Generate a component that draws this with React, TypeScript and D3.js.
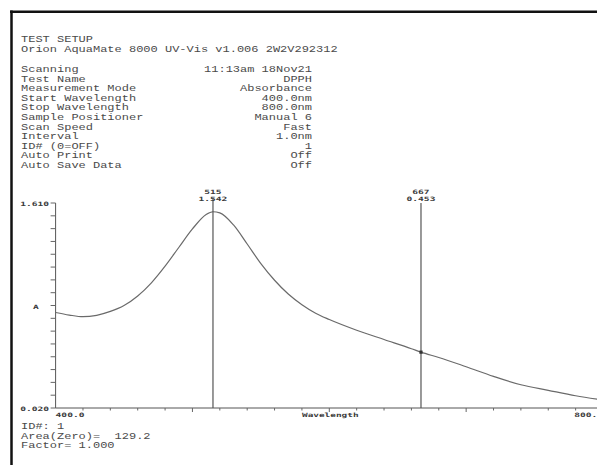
import * as d3 from "d3";
import { useEffect, useRef } from "react";

// spectrum
const wavelengths = [400, 410, 420, 430, 440, 450, 460, 470, 480, 490, 500, 510, 515, 520, 530, 540, 550, 560, 570, 580, 590, 600, 620, 640, 660, 667, 680, 700, 720, 740, 760, 780, 800];
const absorbance = [0.761, 0.741, 0.728, 0.739, 0.769, 0.815, 0.889, 0.991, 1.12, 1.265, 1.409, 1.521, 1.542, 1.533, 1.44, 1.292, 1.14, 1.011, 0.904, 0.821, 0.755, 0.706, 0.623, 0.551, 0.48, 0.453, 0.412, 0.34, 0.265, 0.2, 0.157, 0.115, 0.082];

const markers = [
  { wl: 515, a: 1.542, dot: false },
  { wl: 667, a: 0.453, dot: true },
];

const headerLines = ["TEST SETUP", "Orion AquaMate 8000 UV-Vis v1.006 2W2V292312"];
const setupNames = ["Scanning", "Test Name", "Measurement Mode", "Start Wavelength", "Stop Wavelength", "Sample Positioner", "Scan Speed", "Interval", "ID# (0=OFF)", "Auto Print", "Auto Save Data"];
const setupValues = ["11:13am 18Nov21", "DPPH", "Absorbance", "400.0nm", "800.0nm", "Manual 6", "Fast", "1.0nm", "1", "Off", "Off"];
const footerLines = ["ID#: 1", "Area(Zero)=  129.2", "Factor= 1.000"];

const yMin = 0.02;
const yMax = 1.61;
const yDivisions = 16;
const xStep = 20;

const W = 597;
const H = 465;
const INK = "#3a3a3a";
const MONO = "'Liberation Mono', 'DejaVu Sans Mono', monospace";
const SMALL = "'DejaVu Sans Mono', monospace";

export default function App() {
  const svgRef = useRef<SVGSVGElement>(null);

  useEffect(() => {
    const svg = d3.select(svgRef.current);
    svg.selectAll("*").remove();

    svg.append("rect").attr("width", W).attr("height", H).attr("fill", "#fff");

    // frame (only top and left edges are in the crop)
    svg.append("line").attr("x1", 11.5).attr("x2", 11.5).attr("y1", 10.5).attr("y2", H).attr("stroke", "#111").attr("stroke-width", 2.5);
    svg.append("line").attr("x1", 10).attr("x2", W).attr("y1", 11.8).attr("y2", 11.8).attr("stroke", "#111").attr("stroke-width", 2.5);

    // printed text, a bit flattened like the thermal printout
    const txt = svg.append("g").attr("fill", "#4a4a4a").attr("font-family", MONO).attr("font-size", 12);
    const put = (cls: string, rows: string[], x0: number, y0: number, step: number, anchor = "start") => {
      txt.selectAll(`text.${cls}`).data(rows).join("text")
        .attr("class", cls)
        .attr("xml:space", "preserve")
        .style("white-space", "pre")
        .attr("text-anchor", anchor)
        .attr("transform", (d, i) => `translate(${x0},${y0 + i * step}) scale(1,0.8)`)
        .text(d => d);
    };
    put("h", headerLines, 21, 42, 10);
    put("n", setupNames, 21, 72, 9.6);
    put("v", setupValues, 312, 72, 9.6, "end");
    put("f", footerLines, 21, 429, 9.6);

    // scales
    const x = d3.scaleLinear().domain([400, 800]).range([55.6, 603]);
    const y = d3.scaleLinear().domain([yMin, yMax]).range([408, 203]);

    const squish = (g: any, tx: number, ty: number, s: string, anchor = "start", size = 9.6) => {
      g.append("text")
        .attr("transform", `translate(${tx},${ty}) scale(1,0.62)`)
        .attr("text-anchor", anchor)
        .attr("font-family", SMALL)
        .attr("font-weight", "bold")
        .attr("font-size", size)
        .attr("fill", INK)
        .text(s);
    };

    const plot = svg.append("g");

    // y axis
    plot.append("line").attr("x1", x(400)).attr("x2", x(400)).attr("y1", y(yMax)).attr("y2", y(yMin)).attr("stroke", "#555");
    const yTicks = d3.range(yDivisions + 1).map(i => yMin + (i * (yMax - yMin)) / yDivisions);
    plot.selectAll("line.yt").data(yTicks).join("line")
      .attr("x1", x(400) - 5).attr("x2", x(400))
      .attr("y1", d => y(d)).attr("y2", d => y(d))
      .attr("stroke", "#666");
    squish(plot, 49, y(yMax) + 3, d3.format(".3f")(yMax), "end");
    squish(plot, 49, y(yMin) + 3, d3.format(".3f")(yMin), "end");
    squish(plot, 33, 309, "A");

    // x axis
    plot.append("line").attr("x1", x(400)).attr("x2", W).attr("y1", y(yMin)).attr("y2", y(yMin)).attr("stroke", "#555");
    const xTicks = d3.range(400 + xStep, 800, xStep);
    plot.selectAll("line.xt").data(xTicks).join("line")
      .attr("x1", d => x(d)).attr("x2", d => x(d))
      .attr("y1", y(yMin)).attr("y2", d => y(yMin) + (d % 100 === 0 ? 4 : 2.5))
      .attr("stroke", "#666");
    squish(plot, x(400), 416.5, "400.0");
    squish(plot, 302, 416.5, "Wavelength", "start", 9.4);
    squish(plot, x(800), 416.5, "800.0", "end");

    // spectrum
    const line = d3.line<number>()
      .x((d, i) => x(wavelengths[i]))
      .y(d => y(d))
      .curve(d3.curveMonotoneX);
    plot.append("path").datum(absorbance).attr("d", line)
      .attr("fill", "none").attr("stroke", "#6a6a6a").attr("stroke-width", 1.2);

    // cursor markers
    markers.forEach((m, i) => {
      plot.append("line")
        .attr("x1", x(m.wl)).attr("x2", x(m.wl))
        .attr("y1", i === 0 ? 198 : 203).attr("y2", y(yMin))
        .attr("stroke", "#555").attr("stroke-width", 1.2);
      squish(plot, x(m.wl), 193.5, String(m.wl), "middle");
      squish(plot, x(m.wl), 200.5, d3.format(".3f")(m.a), "middle");
      if (m.dot) {
        plot.append("rect").attr("x", x(m.wl) - 1.6).attr("y", y(m.a) - 1.6)
          .attr("width", 3.2).attr("height", 3.2).attr("fill", "#333");
      }
    });
  }, []);

  return (
    <svg ref={svgRef} width={W} height={H} style={{ position: "absolute", left: 0, top: 0, display: "block" }} />
  );
}
